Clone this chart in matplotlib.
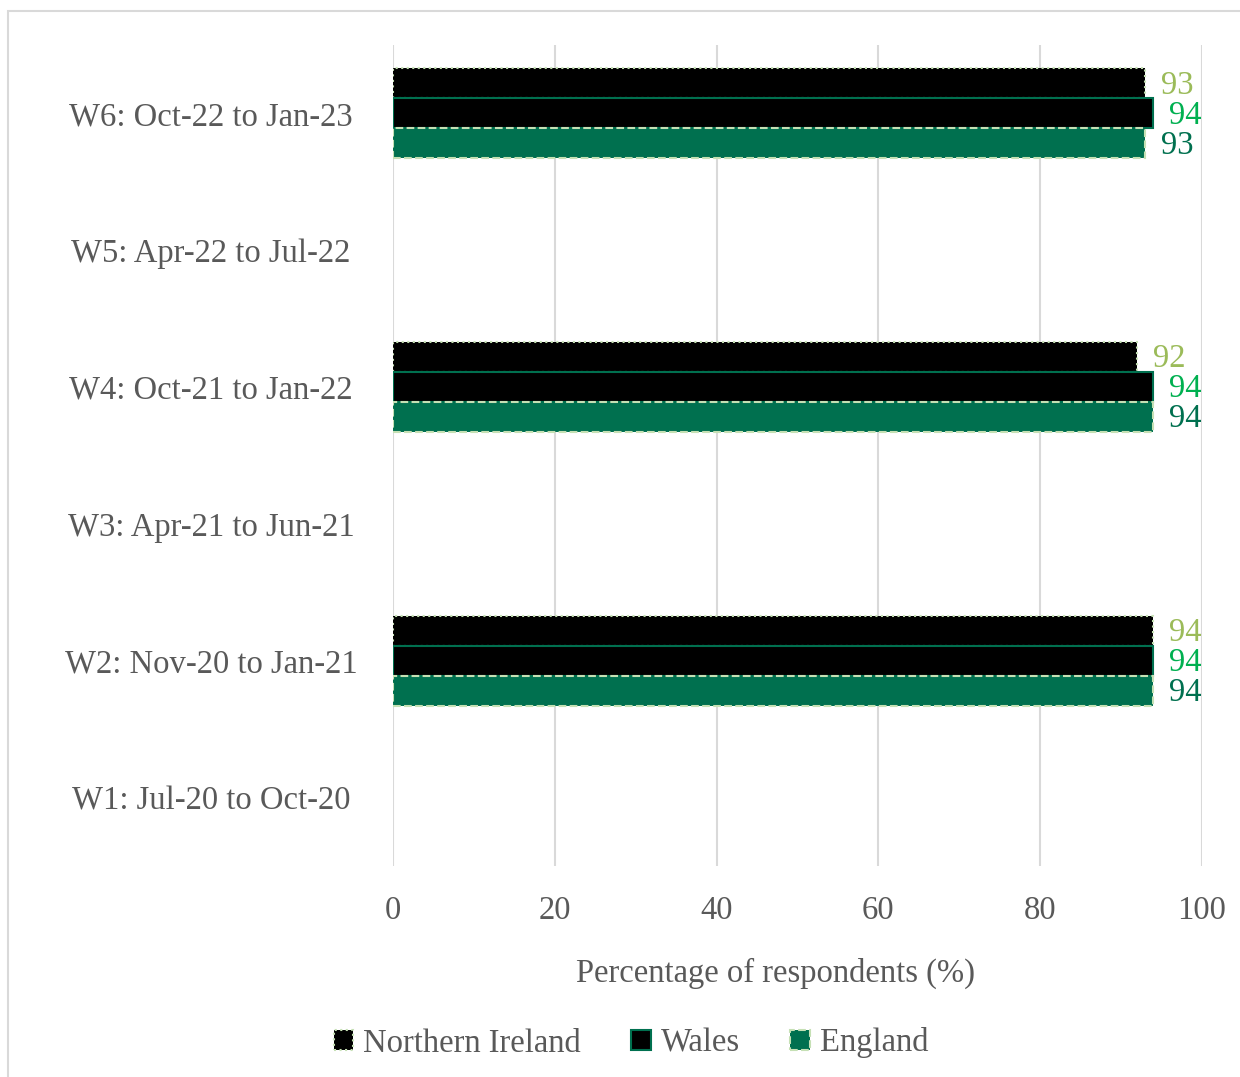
import numpy as np
import matplotlib
matplotlib.use("Agg")
import matplotlib.pyplot as plt
from matplotlib.patches import Rectangle, Patch

plt.rcParams['font.family'] = ['Liberation Serif', 'DejaVu Serif']

waves = ["W1: Jul-20 to Oct-20", "W2: Nov-20 to Jan-21", "W3: Apr-21 to Jun-21",
         "W4: Oct-21 to Jan-22", "W5: Apr-22 to Jul-22", "W6: Oct-22 to Jan-23"]
northern_ireland = [np.nan, 94, np.nan, 92, np.nan, 93]
wales = [np.nan, 94, np.nan, 94, np.nan, 94]
england = [np.nan, 94, np.nan, 94, np.nan, 93]
x_ticks = [0, 20, 40, 60, 80, 100]

W, H, DPI = 1240, 1077, 100
FS = 23.5
fig = plt.figure(figsize=(W / DPI, H / DPI), dpi=DPI)

# outer chart frame
fig.patches.append(Rectangle((8 / W, 1 - 1100 / H), 1300 / W, (1100 - 11) / H,
                             transform=fig.transFigure, fill=False,
                             edgecolor='#D9D9D9', linewidth=1.5, zorder=0))

ax = fig.add_axes([393 / W, 1 - 866 / H, (1202 - 393) / W, (866 - 45) / H])

grey = '#595959'
dark_green = '#00704F'
light_green = '#C5E0B4'
lbl_ni = '#9BBB59'
lbl_wales = '#00B050'
lbl_eng = '#00704F'

y = np.arange(len(waves))
h = 30 / 137

series = [
    ("Northern Ireland", northern_ireland, '#000000', light_green, ':', h, lbl_ni),
    ("Wales", wales, '#000000', dark_green, '-', 0, lbl_wales),
    ("England", england, dark_green, light_green, '--', -h, lbl_eng),
]

handles = []
for name, vals, fc, ec, ls, off, lc in series:
    vals = np.array(vals, dtype=float)
    ax.barh(y + off, vals, height=h, color=fc, edgecolor=ec, linestyle=ls,
            linewidth=1.5, zorder=3)
    for yi, v in zip(y, vals):
        if not np.isnan(v):
            ax.annotate(f"{v:.0f}", (v, yi + off), xytext=(11.5, -1.5),
                        textcoords='offset points', va='center', ha='left',
                        fontsize=FS, color=lc)
    handles.append(Patch(facecolor=fc, edgecolor=ec, linestyle=ls, linewidth=1.5, label=name))

ax.set_xlim(0, 100)
ax.set_ylim(-0.5, len(waves) - 0.5)
ax.set_xticks(x_ticks)
ax.set_xticklabels([str(t) for t in x_ticks], fontsize=FS, color=grey)
ax.set_yticks(y)
ax.set_yticklabels(waves, fontsize=FS, color=grey, ha='center', va='center_baseline')
ax.tick_params(axis='y', length=0, pad=(393 - 211) * 72 / DPI)
ax.tick_params(axis='x', length=0, pad=21)
ax.grid(axis='x', color='#D9D9D9', linewidth=1.5, zorder=0)
ax.set_axisbelow(True)
for s in ax.spines.values():
    s.set_visible(False)

fig.text(775 / W, 1 - 973 / H, "Percentage of respondents (%)", fontsize=FS,
         color=grey, ha='center', va='center')

fig.legend(handles=handles, loc='center', bbox_to_anchor=(631 / W, 1 - 1043 / H),
           ncol=3, frameon=False, fontsize=FS, labelcolor=grey,
           handlelength=0.6, handleheight=0.6, handletextpad=0.3,
           columnspacing=1.55)

fig.savefig("out.png", dpi=DPI)
